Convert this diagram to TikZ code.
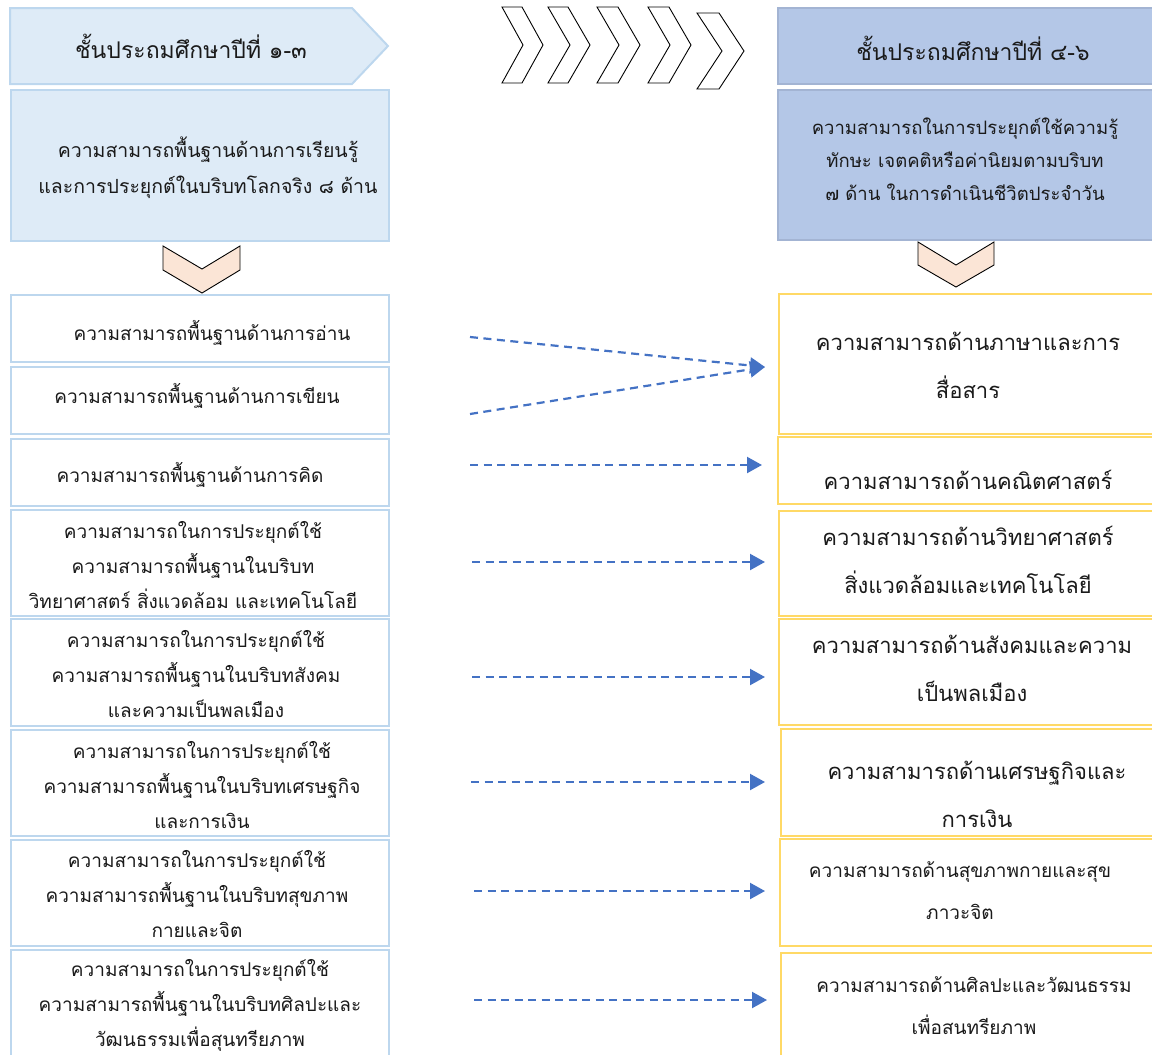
\documentclass[tikz,border=0pt]{standalone}
\usepackage{fontspec}
\setmainfont[Script=Thai]{Loma}
\usetikzlibrary{arrows.meta}
\definecolor{lhfill}{HTML}{DEEBF7}
\definecolor{lhdraw}{HTML}{BDD7EE}
\definecolor{rhfill}{HTML}{B4C7E7}
\definecolor{rhdraw}{HTML}{A3B4D3}
\definecolor{ydraw}{HTML}{FFD966}
\definecolor{chevfill}{HTML}{FBE5D6}
\definecolor{arrc}{HTML}{4472C4}
\definecolor{txtc}{HTML}{1A1A1A}
\tikzset{
  lbox/.style={draw=lhdraw, line width=1.5pt, fill=white, anchor=north west, inner sep=0pt, minimum width=378pt},
  rbox/.style={draw=ydraw, line width=1.6pt, fill=white, anchor=north west, inner sep=0pt, minimum width=390pt},
  txt/.style={align=center, inner sep=0pt, text=txtc},
  conn/.style={draw=arrc, line width=2.2pt, dash pattern=on 8pt off 5.5pt, -{Triangle[length=15pt,width=16pt]}},
  chevdown/.style={draw=black, line width=0.9pt, fill=chevfill, line join=miter},
  chevright/.style={draw=black, line width=0.9pt, fill=white, line join=miter},
}
\newcommand{\fsL}{\fontsize{19pt}{35pt}\selectfont}
\newcommand{\fsH}{\fontsize{23pt}{30pt}\selectfont}
\newcommand{\fsB}{\fontsize{19.5pt}{36pt}\selectfont}
\newcommand{\fsRB}{\fontsize{18.5pt}{33pt}\selectfont}
\newcommand{\fsR}{\fontsize{22pt}{48pt}\selectfont}
\newcommand{\fsRs}{\fontsize{19pt}{42pt}\selectfont}
\begin{document}
\begin{tikzpicture}[x=1pt,y=-1pt]
\useasboundingbox (0,0) rectangle (1152,1055);
% ---------- left header ----------
\draw[draw=lhdraw, line width=2pt, fill=lhfill] (10,8) -- (352,8) -- (388,46) -- (352,84) -- (10,84) -- cycle;
\node[txt, font=\fsH] (lh) at (191,46) {ชั้นประถมศึกษาปีที่ ๑-๓};
% ---------- left big box ----------
\node[lbox, draw=lhdraw, fill=lhfill, line width=2pt, minimum height=151pt] (lb) at (10,89) {};
\node[txt, font=\fsB] (lbt) at (208,168) {ความสามารถพื้นฐานด้านการเรียนรู้\\และการประยุกต์ในบริบทโลกจริง ๘ ด้าน};
% ---------- chevron down left ----------
\draw[chevdown] (163,246) -- (202,269) -- (240,246) -- (240,270) -- (202,293) -- (163,270) -- cycle;
% ---------- top chevrons ----------
\foreach \xa/\ya/\w/\t/\h in {502/7/20/41/76, 548/7/20/42/76, 597/7/21/43/76, 648/7/21/43/76, 697/13/22/47/76}{
  \draw[chevright] (\xa,\ya) -- ({\xa+\w},\ya) -- ({\xa+\t},{\ya+\h/2}) -- ({\xa+\w},{\ya+\h}) -- (\xa,{\ya+\h}) -- ({\xa+\t-\w},{\ya+\h/2}) -- cycle;
}
% ---------- right header ----------
\node[rbox, draw=rhdraw, fill=rhfill, line width=2pt, minimum height=76pt] (rh) at (777,7) {};
\node[txt, font=\fsH] (rht) at (973,48) {ชั้นประถมศึกษาปีที่ ๔-๖};
\node[rbox, draw=rhdraw, fill=rhfill, line width=2pt, minimum height=150pt] (rb) at (777,89) {};
\node[txt, font=\fsRB] (rbt) at (965,159) {ความสามารถในการประยุกต์ใช้ความรู้\\ทักษะ เจตคติหรือค่านิยมตามบริบท\\๗ ด้าน ในการดำเนินชีวิตประจำวัน};
% ---------- chevron down right ----------
\draw[chevdown] (918,242) -- (956,265) -- (994,242) -- (994,265) -- (956,287) -- (918,265) -- cycle;
% ---------- left items ----------
\node[lbox, minimum height=67pt] (l1) at (10,294) {};
\node[lbox, minimum height=67pt] (l2) at (10,366) {};
\node[lbox, minimum height=67pt] (l3) at (10,438) {};
\node[lbox, minimum height=106pt] (l4) at (10,509) {};
\node[lbox, minimum height=107pt] (l5) at (10,618) {};
\node[lbox, minimum height=106pt] (l6) at (10,729) {};
\node[lbox, minimum height=106pt] (l7) at (10,839) {};
\node[lbox, minimum height=120pt] (l8) at (10,949) {};
\node[txt, font=\fsL] (l1t) at (212,333) {ความสามารถพื้นฐานด้านการอ่าน};
\node[txt, font=\fsL] (l2t) at (197,396) {ความสามารถพื้นฐานด้านการเขียน};
\node[txt, font=\fsL] (l3t) at (190,475) {ความสามารถพื้นฐานด้านการคิด};
\node[txt, font=\fsL] (l4t) at (193,565) {ความสามารถในการประยุกต์ใช้\\ความสามารถพื้นฐานในบริบท\\วิทยาศาสตร์ สิ่งแวดล้อม และเทคโนโลยี};
\node[txt, font=\fsL] (l5t) at (196,674) {ความสามารถในการประยุกต์ใช้\\ความสามารถพื้นฐานในบริบทสังคม\\และความเป็นพลเมือง};
\node[txt, font=\fsL] (l6t) at (202,785) {ความสามารถในการประยุกต์ใช้\\ความสามารถพื้นฐานในบริบทเศรษฐกิจ\\และการเงิน};
\node[txt, font=\fsL] (l7t) at (197,894) {ความสามารถในการประยุกต์ใช้\\ความสามารถพื้นฐานในบริบทสุขภาพ\\กายและจิต};
\node[txt, font=\fsL] (l8t) at (200,1005) {ความสามารถในการประยุกต์ใช้\\ความสามารถพื้นฐานในบริบทศิลปะและ\\วัฒนธรรมเพื่อสุนทรียภาพ};
% ---------- right items ----------
\node[rbox, minimum height=140pt] (r1) at (778,293) {};
\node[rbox, minimum height=67pt] (r2) at (777,436) {};
\node[rbox, minimum height=105pt] (r3) at (778,510) {};
\node[rbox, minimum height=106pt] (r4) at (778,618) {};
\node[rbox, minimum height=107pt] (r5) at (780,728) {};
\node[rbox, minimum height=107pt] (r6) at (779,838) {};
\node[rbox, minimum height=120pt] (r7) at (780,952) {};
\node[txt, font=\fsR] (r1t) at (968,365) {ความสามารถด้านภาษาและการ\\สื่อสาร};
\node[txt, font=\fsR] (r2t) at (968,480) {ความสามารถด้านคณิตศาสตร์};
\node[txt, font=\fsR] (r3t) at (968,560) {ความสามารถด้านวิทยาศาสตร์\\สิ่งแวดล้อมและเทคโนโลยี};
\node[txt, font=\fsR] (r4t) at (972,668) {ความสามารถด้านสังคมและความ\\เป็นพลเมือง};
\node[txt, font=\fsR] (r5t) at (977,794) {ความสามารถด้านเศรษฐกิจและ\\การเงิน};
\node[txt, font=\fsRs] (r6t) at (960,891) {ความสามารถด้านสุขภาพกายและสุข\\ภาวะจิต};
\node[txt, font=\fsRs] (r7t) at (974,1006) {ความสามารถด้านศิลปะและวัฒนธรรม\\เพื่อสนทรียภาพ};
% ---------- connectors ----------
\coordinate (s1) at (470,337); \coordinate (e1) at (765,367);
\coordinate (s2) at (470,414); \coordinate (e2) at (765,367);
\coordinate (s3) at (470,465); \coordinate (e3) at (762,465);
\coordinate (s4) at (472,562); \coordinate (e4) at (765,562);
\coordinate (s5) at (472,677); \coordinate (e5) at (765,677);
\coordinate (s6) at (471,782); \coordinate (e6) at (765,782);
\coordinate (s7) at (474,891); \coordinate (e7) at (765,891);
\coordinate (s8) at (474,1000); \coordinate (e8) at (767,1000);
\foreach \i in {1,...,8}{ \draw[conn] (s\i) -- (e\i); }
\end{tikzpicture}
\end{document}
